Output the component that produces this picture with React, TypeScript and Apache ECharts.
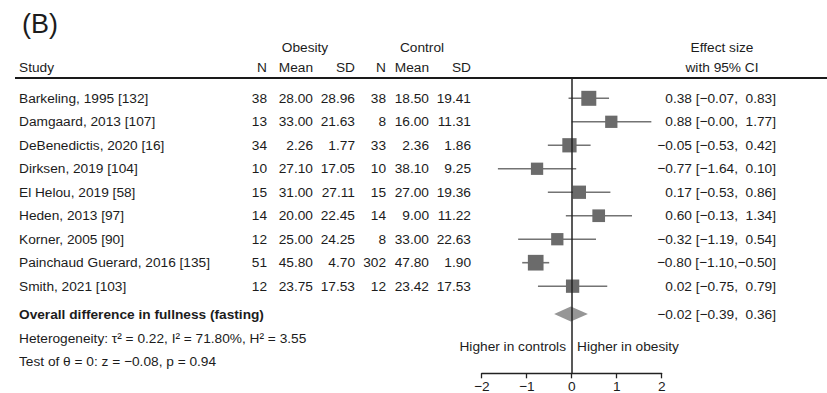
import React, { useEffect, useRef } from "react";
import * as echarts from "echarts";

const studies = [
  "Barkeling, 1995 [132]",
  "Damgaard, 2013 [107]",
  "DeBenedictis, 2020 [16]",
  "Dirksen, 2019 [104]",
  "El Helou, 2019 [58]",
  "Heden, 2013 [97]",
  "Korner, 2005 [90]",
  "Painchaud Guerard, 2016 [135]",
  "Smith, 2021 [103]",
];
const obesityN = [38, 13, 34, 10, 15, 14, 12, 51, 12];
const obesityMean = [28.0, 33.0, 2.26, 27.1, 31.0, 20.0, 25.0, 45.8, 23.75];
const obesitySD = [28.96, 21.63, 1.77, 17.05, 27.11, 22.45, 24.25, 4.7, 17.53];
const controlN = [38, 8, 33, 10, 15, 14, 8, 302, 12];
const controlMean = [18.5, 16.0, 2.36, 38.1, 27.0, 9.0, 33.0, 47.8, 23.42];
const controlSD = [19.41, 11.31, 1.86, 9.25, 19.36, 11.22, 22.63, 1.9, 17.53];
const effectSize = [0.38, 0.88, -0.05, -0.77, 0.17, 0.6, -0.32, -0.8, 0.02];
const ciLow = [-0.07, -0.0, -0.53, -1.64, -0.53, -0.13, -1.19, -1.1, -0.75];
const ciHigh = [0.83, 1.77, 0.42, 0.1, 0.86, 1.34, 0.54, -0.5, 0.79];
const weightPct = [13.7, 9.2, 12.4, 9.2, 10.8, 9.8, 9.2, 15.0, 10.8];
const overallEffect = -0.02;
const overallLow = -0.39;
const overallHigh = 0.36;
const xTicks = [-2, -1, 0, 1, 2];

const FONT = "'Liberation Sans', Arial, Helvetica, sans-serif";
const FS = 13.7;
const TXT = "#1c1c1c";

const signed = (v: number) =>
  (v < 0 || Object.is(v, -0) ? "\u2212" : "") + Math.abs(v).toFixed(2);
const ciText = (e: number, lo: number, hi: number) =>
  `${signed(e)} [${signed(lo)},${hi < 0 ? "" : "  "}${signed(hi)}]`;

// layout (pixels)
const COL = { obN: 267, obMean: 313, obSD: 355, ctN: 386, ctMean: 429, ctSD: 471, eff: 776, study: 19 };
const OVERALL_ROW = 9.19;

export default function App() {
  const ref = useRef<HTMLDivElement>(null);
  useEffect(() => {
    document.body.style.margin = "0";
    const chart = echarts.init(ref.current!, null, { renderer: "svg" });

    const t = (text: string, x: number, y: number, align = "left", extra: any = {}) => ({
      type: "text",
      x,
      y,
      style: { text, align, verticalAlign: "middle", fontSize: FS, fontFamily: FONT, fill: TXT, ...extra },
    });

    const tableData = studies.map((s, i) => [i]);
    const forestData = effectSize.map((e, i) => [e, ciLow[i], ciHigh[i], weightPct[i], i]);

    const option: any = {
      animation: false,
      backgroundColor: "#fff",
      grid: { left: 481.7, right: 165.3, top: 78, bottom: 19.7, containLabel: false, outerBoundsMode: "none" },
      xAxis: {
        type: "value",
        min: -2,
        max: 2,
        interval: 1,
        position: "bottom",
        axisLine: { show: true, onZero: false, lineStyle: { color: "#222", width: 1.3 } },
        axisTick: { show: true, length: 5, lineStyle: { color: "#222", width: 1.3 } },
        splitLine: { show: false },
        axisLabel: {
          margin: 6,
          fontSize: FS,
          fontFamily: FONT,
          color: TXT,
          formatter: (v: number) => (v < 0 ? "\u2212" + Math.abs(v) : String(v)),
          customValues: xTicks,
        },
      },
      yAxis: { type: "value", min: -0.865, max: 11.71, inverse: true, show: false },
      series: [
        {
          type: "custom",
          name: "table",
          coordinateSystem: "cartesian2d",
          data: tableData,
          encode: { x: 0, y: 0 },
          renderItem: (params: any, api: any) => {
            const i = api.value(0);
            const y = api.coord([0, i])[1];
            return {
              type: "group",
              children: [
                t(studies[i], COL.study, y),
                t(String(obesityN[i]), COL.obN, y, "right"),
                t(obesityMean[i].toFixed(2), COL.obMean, y, "right"),
                t(obesitySD[i].toFixed(2), COL.obSD, y, "right"),
                t(String(controlN[i]), COL.ctN, y, "right"),
                t(controlMean[i].toFixed(2), COL.ctMean, y, "right"),
                t(controlSD[i].toFixed(2), COL.ctSD, y, "right"),
                t(ciText(effectSize[i], ciLow[i], ciHigh[i]), COL.eff, y, "right"),
              ],
            };
          },
          clip: false,
          z: 2,
        },
        {
          type: "custom",
          name: "studies",
          coordinateSystem: "cartesian2d",
          data: forestData,
          encode: { x: [0, 1, 2], y: 4 },
          renderItem: (params: any, api: any) => {
            const e = api.value(0), lo = api.value(1), hi = api.value(2), w = api.value(3), r = api.value(4);
            const p = api.coord([e, r]);
            const a = api.coord([lo, r]);
            const b = api.coord([hi, r]);
            const s = 4.05 * Math.sqrt(w);
            return {
              type: "group",
              children: [
                {
                  type: "line",
                  shape: { x1: a[0], y1: a[1], x2: b[0], y2: b[1] },
                  style: { stroke: "#737373", lineWidth: 1.6 },
                },
                {
                  type: "rect",
                  shape: { x: p[0] - s / 2, y: p[1] - s / 2, width: s, height: s },
                  style: { fill: "#6b6b6b" },
                },
              ],
            };
          },
          clip: false,
          z: 3,
        },
        {
          type: "custom",
          name: "overall",
          coordinateSystem: "cartesian2d",
          data: [[overallEffect, overallLow, overallHigh, OVERALL_ROW]],
          encode: { x: [0, 1, 2], y: 3 },
          renderItem: (params: any, api: any) => {
            const e = api.value(0), lo = api.value(1), hi = api.value(2), r = api.value(3);
            const p = api.coord([e, r]);
            const a = api.coord([lo, r]);
            const b = api.coord([hi, r]);
            return {
              type: "group",
              children: [
                {
                  type: "polygon",
                  shape: { points: [[a[0], a[1]], [p[0], p[1] - 7.5], [b[0], b[1]], [p[0], p[1] + 7.5]] },
                  style: { fill: "#969696" },
                },
                t("Overall difference in fullness (fasting)", COL.study, p[1], "left", { fontWeight: "bold" }),
                t(ciText(e, lo, hi), COL.eff, p[1], "right"),
              ],
            };
          },
          clip: false,
          z: 3,
        },
        {
          type: "line",
          name: "zero",
          data: [],
          z: 5,
          markLine: {
            silent: true,
            symbol: "none",
            label: { show: false },
            lineStyle: { color: "#222", width: 1.5, type: "solid" },
            data: [{ xAxis: 0 }],
          },
        },
      ],
      graphic: [
        t("(B)", 22, 24, "left", { fontSize: 27 }),
        t("Obesity", 305, 47, "center"),
        t("Control", 422, 47, "center"),
        t("Effect size", 722, 47, "center"),
        t("Study", COL.study, 67),
        t("N", COL.obN, 67, "right"),
        t("Mean", COL.obMean, 67, "right"),
        t("SD", COL.obSD, 67, "right"),
        t("N", COL.ctN, 67, "right"),
        t("Mean", COL.ctMean, 67, "right"),
        t("SD", COL.ctSD, 67, "right"),
        t("with 95% CI", 722, 67, "center"),
        {
          type: "line",
          shape: { x1: 15, y1: 78, x2: 827, y2: 78 },
          style: { stroke: "#1a1a1a", lineWidth: 2 },
        },
        t("Heterogeneity: \u03c4\u00b2 = 0.22, I\u00b2 = 71.80%, H\u00b2 = 3.55", COL.study, 338),
        t("Test of \u03b8 = 0: z = \u22120.08, p = 0.94", COL.study, 361),
        t("Higher in controls", 566, 346, "right"),
        t("Higher in obesity", 577, 346, "left"),
      ],
    };
    chart.setOption(option);
    return () => chart.dispose();
  }, []);
  return <div ref={ref} style={{ width: 827, height: 393 }} />;
}
